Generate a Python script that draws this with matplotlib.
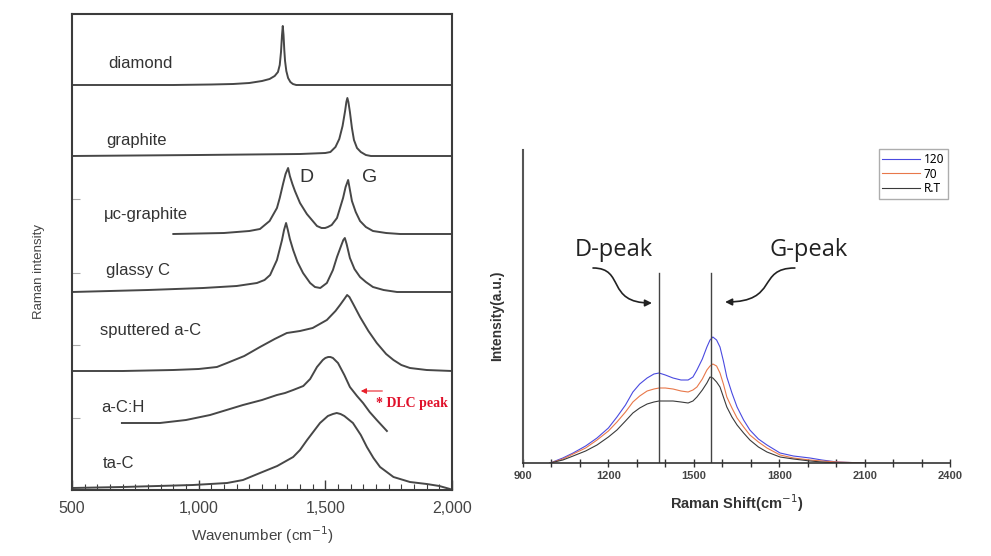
import numpy as np
import matplotlib
matplotlib.use('Agg')
import matplotlib.pyplot as plt
from matplotlib.ticker import MultipleLocator, FixedLocator
from matplotlib.patches import FancyArrowPatch
from matplotlib.path import Path

# ---- left panel: reference Raman spectra (wavenumber, intensity above own baseline)
names = ['diamond', 'graphite', 'μc-graphite', 'glassy C', 'sputtered a-C', 'a-C:H', 'ta-C']
offsets = [405, 334, 256, 198, 119, 67, 0]

diamond_x = [500, 900, 1050, 1136, 1200, 1250, 1280, 1300, 1313, 1320, 1325, 1329, 1332,
             1335, 1338, 1341, 1346, 1353, 1362, 1372, 1385, 2000]
diamond_y = [0, 0, 0.5, 1, 2, 4, 6, 9, 13, 20, 33, 50, 59, 50, 35, 24, 14, 7, 3, 1, 0, 0]

graphite_x = [500, 1000, 1400, 1500, 1520, 1540, 1555, 1568, 1578, 1583, 1587, 1591, 1597,
              1605, 1613, 1625, 1640, 1660, 1680, 2000]
graphite_y = [0, 1, 2, 3, 4, 9, 17, 30, 45, 54, 58, 54, 44, 28, 16, 8, 4, 1, 0, 0]

mc_x = [900, 1100, 1200, 1242, 1280, 1309, 1320, 1333, 1343, 1353, 1360, 1370, 1380, 1400,
        1427, 1467, 1485, 1499, 1510, 1525, 1546, 1570, 1580, 1590, 1595, 1600, 1605, 1620,
        1637, 1660, 1688, 1740, 1795, 2000]
mc_y = [0, 1, 3, 5, 13, 26, 36, 50, 60, 66, 58, 50, 43, 31, 20, 8, 6, 6, 7, 9, 16, 36, 47,
        54, 47, 40, 33, 22, 13, 7, 3, 1, 0, 0]

glassy_x = [500, 800, 1018, 1150, 1230, 1260, 1282, 1309, 1329, 1337, 1345, 1352, 1360, 1373,
            1390, 1412, 1440, 1459, 1480, 1506, 1530, 1546, 1562, 1571, 1577, 1584, 1597,
            1615, 1637, 1660, 1688, 1730, 1783, 2000]
glassy_y = [0, 2, 4, 6, 9, 12, 17, 32, 52, 62, 69, 62, 53, 42, 30, 19, 9, 5, 4, 9, 22, 35,
            46, 52, 54, 48, 34, 23, 15, 10, 5, 2, 0, 0]

sput_x = [500, 700, 900, 1000, 1072, 1112, 1180, 1242, 1300, 1348, 1400, 1450, 1506, 1540,
          1558, 1575, 1586, 1595, 1610, 1637, 1670, 1703, 1740, 1769, 1800, 1834, 1900, 2000]
sput_y = [0, 0, 1, 2, 4, 8, 15, 24, 32, 38, 40, 43, 51, 60, 66, 72, 76, 74, 67, 54, 40, 28,
          17, 11, 6, 3, 1, 0]

ach_x = [697, 847, 950, 1045, 1175, 1250, 1309, 1341, 1373, 1413, 1440, 1467, 1490, 1500,
         1511, 1520, 1530, 1550, 1575, 1597, 1625, 1649, 1675, 1703, 1743]
ach_y = [0, 0, 3, 8, 18, 23, 28, 30, 33, 37, 44, 56, 63, 65, 66, 66, 65, 60, 48, 36, 27, 20,
         11, 3, -8]

tac_x = [500, 700, 978, 1112, 1175, 1242, 1310, 1373, 1400, 1428, 1479, 1510, 1530, 1545,
         1560, 1575, 1609, 1640, 1664, 1690, 1716, 1769, 1834, 1900, 1950, 1992, 2000]
tac_y = [2, 3, 5, 7, 10, 17, 24, 33, 40, 50, 67, 74, 76, 77, 76, 74, 67, 55, 43, 32, 23, 13,
         8, 6, 4, 1, 0]

spectra = [(diamond_x, diamond_y), (graphite_x, graphite_y), (mc_x, mc_y), (glassy_x, glassy_y),
           (sput_x, sput_y), (ach_x, ach_y), (tac_x, tac_y)]
label_pos = [(642, 426), (634, 349), (626, 275), (634, 219), (611, 160), (614, 83), (622, 27)]

# ---- right panel: measured spectra
shift = [995, 1040, 1076, 1120, 1160, 1200, 1230, 1260, 1286, 1310,
         1336, 1360, 1378, 1400, 1427, 1455, 1480, 1497, 1511, 1530,
         1546, 1557, 1567, 1580, 1592, 1604, 1616, 1634, 1652, 1675,
         1697, 1727, 1757, 1803, 1850, 1908, 1950, 2003, 2050, 2100]
int_120 = [0, 5, 10, 17, 25, 35, 46, 58, 71, 79,
           85, 89, 90, 88, 85, 83, 83, 86, 93, 104,
           116, 123, 126, 123, 116, 102, 86, 70, 56, 43,
           33, 24, 18, 10, 7, 5, 3, 1, 0.5, 0]
int_70 = [0, 4, 9, 15, 23, 32, 41, 51, 61, 67,
          72, 74, 75, 75, 74, 72, 71, 73, 76, 84,
          93, 97, 99, 97, 90, 79, 66, 55, 45, 36,
          28, 21, 15, 8, 5, 3, 2, 1, 0.5, 0]
int_rt = [0, 3, 7, 12, 18, 26, 33, 42, 50, 55,
          59, 61, 62, 62, 62, 61, 60, 62, 66, 73,
          80, 86, 85, 81, 76, 66, 56, 46, 38, 30,
          23, 16, 11, 6, 4, 2, 1, 0, 0, 0]
series_names = ['120', '70', 'R.T']
series_colors = ['#4a4ae0', '#e8784a', '#3a3a3a']
peak_lines = [1378, 1560]

fig = plt.figure(figsize=(9.91, 5.56), dpi=100)

# ---------------- left
ax1 = fig.add_axes([72 / 991, 66 / 556, 380 / 991, 476 / 556])
grey = '#3c3c3c'
for (xs, ys), off in zip(spectra, offsets):
    ax1.plot(xs, np.array(ys) + off, color='#474747', lw=1.4, solid_joinstyle='round')
for name, (lx, ly) in zip(names, label_pos):
    ax1.text(lx, ly, name, fontsize=12, family='Liberation Sans', color='#333333', va='center')
ax1.text(1427, 312, 'D', fontsize=14, family='Liberation Sans', color='#333333', va='center', ha='center')
ax1.text(1676, 312, 'G', fontsize=14, family='Liberation Sans', color='#333333', va='center', ha='center')
ax1.annotate('', xy=(1629, 99), xytext=(1736, 99),
             arrowprops=dict(arrowstyle='-|>', color='#e8202a', lw=0.8, mutation_scale=8))
ax1.text(1700, 86, '* DLC peak', fontsize=10, family='Liberation Serif', weight='bold',
         color='#e0102a', va='center')

ax1.set_xlim(500, 2000)
ax1.set_ylim(0, 476)
ax1.xaxis.set_major_locator(FixedLocator([500, 1000, 1500, 2000]))
ax1.xaxis.set_minor_locator(MultipleLocator(50))
ax1.set_xticklabels(['500', '1,000', '1,500', '2,000'])
ax1.yaxis.set_major_locator(FixedLocator([72, 145, 217, 291]))
ax1.set_yticklabels([])
ax1.tick_params(axis='x', which='major', direction='in', length=7, width=1, color=grey,
                labelsize=11.5, labelcolor='#444444', pad=8)
ax1.tick_params(axis='x', which='minor', direction='in', length=4, width=0.8, color=grey)
ax1.tick_params(axis='y', which='major', direction='in', length=6, width=0.8, color='#aaaaaa')
for lab in ax1.get_xticklabels():
    lab.set_family('Liberation Sans')
for sp in ax1.spines.values():
    sp.set_color(grey)
    sp.set_linewidth(1.5)
ax1.set_xlabel('Wavenumber (cm$^{-1}$)', fontsize=11, family='Liberation Sans', color='#444444', labelpad=6)
ax1.set_ylabel('Raman intensity', fontsize=9.5, family='Liberation Sans', color='#444444')
ax1.yaxis.set_label_coords(-0.07, 0.46)

# ---------------- right
ax2 = fig.add_axes([523 / 991, 93 / 556, 427 / 991, 313 / 556])
for ys, nm, c in zip([int_120, int_70, int_rt], series_names, series_colors):
    ax2.plot(shift, ys, color=c, lw=0.8, label=nm)
for px in peak_lines:
    ax2.plot([px, px], [0, 190], color='#444444', lw=1.0)

ax2.set_xlim(900, 2400)
ax2.set_ylim(0, 313)
ax2.xaxis.set_major_locator(MultipleLocator(300))
ax2.xaxis.set_minor_locator(MultipleLocator(100))
ax2.set_yticks([])
ax2.tick_params(axis='x', which='both', direction='inout', length=6, width=1, color='#333333',
                labelsize=8, pad=3)
for lab in ax2.get_xticklabels():
    lab.set_weight('bold')
    lab.set_family('Liberation Sans')
    lab.set_color('#444444')
for s in ['top', 'right']:
    ax2.spines[s].set_visible(False)
ax2.spines['left'].set_color('#555555')
ax2.spines['left'].set_linewidth(1.5)
ax2.spines['bottom'].set_color('#333333')
ax2.spines['bottom'].set_linewidth(1.2)
ax2.set_xlabel('Raman Shift(cm$^{-1}$)', fontsize=10.5, weight='bold', family='Liberation Sans',
               color='#333333', labelpad=8)
ax2.set_ylabel('Intensity(a.u.)', fontsize=10, weight='bold', family='Liberation Sans', color='#333333')
ax2.yaxis.set_label_coords(-0.045, 0.47)

leg = ax2.legend(loc='upper right', bbox_to_anchor=(1.0, 1.01), frameon=True,
                 fancybox=False, handlelength=3.2, handletextpad=0.3, borderpad=0.3,
                 labelspacing=0.15, borderaxespad=0.2, prop={'family': 'Noto Sans', 'size': 8.5})
leg.get_frame().set_edgecolor('#999999')
leg.get_frame().set_linewidth(1.0)

ax2.text(1220, 213, 'D-peak', fontsize=17, family='Open Sans', ha='center', va='center', color='#222222')
ax2.text(1905, 213, 'G-peak', fontsize=17, family='Open Sans', ha='center', va='center', color='#222222')

# S-shaped arrows
d_path = Path([(1146, 195), (1260, 195), (1190, 160), (1353, 160)],
              [Path.MOVETO, Path.CURVE4, Path.CURVE4, Path.CURVE4])
g_path = Path([(1855, 195), (1720, 195), (1800, 161), (1610, 161)],
              [Path.MOVETO, Path.CURVE4, Path.CURVE4, Path.CURVE4])
for pth in [d_path, g_path]:
    ax2.add_patch(FancyArrowPatch(path=pth, arrowstyle='-|>', mutation_scale=10,
                                  color='#222222', lw=1.2))

fig.savefig('out.png', dpi=100)
